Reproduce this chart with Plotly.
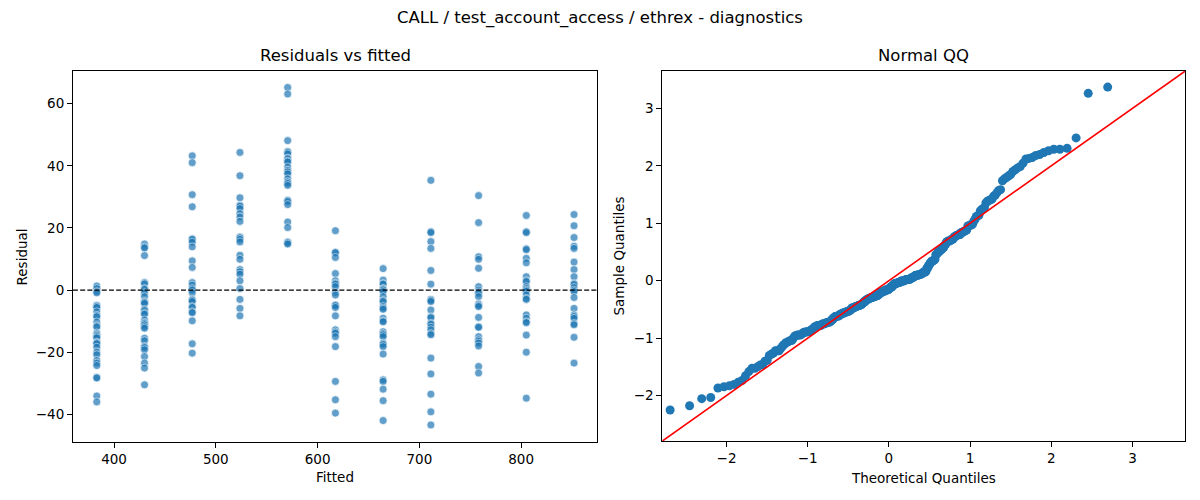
from statistics import NormalDist

import plotly.graph_objects as go

# fitted value of each group (x positions of the residual columns)
fitted_levels = [383.0, 429.9, 476.8, 523.7, 570.6, 617.5, 664.4, 711.3, 758.2, 805.1, 852.0]

# residuals, top to bottom
resid_383 = [1.3, 0.5, -0.5, -0.9, -4.9, -5.2, -5.6, -7.0, -8.2, -8.6, -10.3, -11.5, -11.9, -13.8, -14.2, -14.6,
             -15.0, -15.4, -16.8, -17.0, -17.3, -18.4, -20.0, -20.8, -22.7, -23.5, -24.3, -28.1, -28.3, -34.1, -36.0]
resid_430 = [14.8, 13.9, 13.5, 11.1, 2.4, 2.0, 0.5, 0.2, -0.9, -2.1, -3.7, -4.0, -4.3, -6.2, -6.6, -7.5,
             -7.8, -9.6, -10.5, -10.8, -11.2, -11.8, -12.3, -15.5, -16.3, -18.2, -18.5, -19.2, -21.4, -23.5, -25.1, -30.5]
resid_477 = [43.2, 41.0, 30.7, 26.8, 16.5, 16.3, 15.4, 13.9, 9.4, 7.3, 2.4, 1.6, 0.5, 0.0, -0.9, -3.0,
             -3.3, -3.7, -5.3, -5.6, -7.0, -7.3, -9.9, -17.3, -20.3]
resid_524 = [44.3, 36.8, 29.7, 27.3, 27.0, 26.2, 24.6, 23.5, 22.1, 17.1, 16.8, 16.3, 15.5, 11.2, 9.9, 6.6,
             5.9, 5.1, 3.0, 0.5, -3.0, -5.9, -8.3]
resid_571 = [65.2, 63.1, 48.1, 44.6, 44.3, 43.8, 42.5, 42.2, 41.5, 41.2, 39.6, 38.5, 38.0, 37.4, 35.8, 34.8,
             34.3, 33.7, 28.9, 28.5, 27.5, 21.9, 20.1, 15.5, 15.2, 14.8]
resid_618 = [19.1, 12.2, 12.0, 10.5, 5.3, 3.0, 2.2, 1.9, 1.1, -0.8, -1.6, -4.8, -5.0, -5.6, -8.3, -12.8,
             -13.5, -13.9, -15.0, -18.2, -29.4, -35.3, -39.6]
resid_664 = [6.9, 3.2, 2.1, 1.9, 0.5, 0.3, 0.0, -0.5, -2.1, -3.4, -3.7, -5.3, -5.8, -6.2, -9.1, -10.0,
             -10.2, -13.4, -14.0, -14.4, -15.0, -17.1, -17.5, -18.2, -20.6, -28.9, -29.4, -31.9, -35.6, -42.0]
resid_711 = [35.3, 18.8, 18.5, 15.6, 13.4, 6.3, 1.9, -3.0, -3.3, -3.7, -6.4, -8.6, -8.9, -10.7, -11.0, -12.0,
             -12.8, -14.0, -14.4, -21.9, -27.0, -33.5, -39.2, -43.4]
resid_758 = [30.4, 21.7, 10.7, 9.9, 7.0, 1.1, 0.0, -0.6, -1.1, -2.1, -4.5, -5.0, -5.3, -8.8, -11.8, -12.0,
             -15.0, -16.0, -16.5, -17.1, -18.0, -24.6, -26.7]
resid_805 = [24.0, 18.8, 18.5, 13.3, 13.0, 10.2, 8.8, 4.3, 3.0, 2.7, 1.1, 0.5, 0.0, -0.4, -1.6, -2.7,
             -3.0, -8.0, -9.1, -10.2, -10.5, -14.5, -20.0, -34.8]
resid_852 = [24.3, 20.7, 16.9, 14.1, 13.4, 9.0, 6.6, 4.3, 2.1, 1.8, 0.8, 0.0, -0.5, -2.4, -5.9, -8.0,
             -8.5, -9.1, -10.8, -11.2, -15.2, -23.5]

residuals = [resid_383, resid_430, resid_477, resid_524, resid_571, resid_618,
             resid_664, resid_711, resid_758, resid_805, resid_852]

fitted = []
resid = []
for f, rs in zip(fitted_levels, residuals):
	fitted += [f] * len(rs)
	resid += rs

# normal QQ: standardised residuals against normal quantiles, positions i/(n+1)
n = len(resid)
mean = sum(resid) / n
sd = (sum((r - mean) ** 2 for r in resid) / n) ** 0.5
sample_q = sorted((r - mean) / sd for r in resid)
theo_q = [NormalDist().inv_cdf(i / (n + 1)) for i in range(1, n + 1)]

qq_lim = [-2.79, 3.65]

blue = '#1f77b4'
font = 'DejaVu Sans'

fig = go.Figure()
fig.add_trace(go.Scatter(
	x=fitted, y=resid, mode='markers',
	marker=dict(color=blue, size=8, opacity=0.7, line=dict(color='white', width=0.7)),
	xaxis='x', yaxis='y', hoverinfo='x+y'))
fig.add_trace(go.Scatter(
	x=theo_q, y=sample_q, mode='markers',
	marker=dict(color=blue, size=9),
	xaxis='x2', yaxis='y2'))
fig.add_trace(go.Scatter(
	x=qq_lim, y=qq_lim, mode='lines',
	line=dict(color='red', width=1.6),
	xaxis='x2', yaxis='y2', cliponaxis=False))

axis_style = dict(
	showline=True, linecolor='black', linewidth=1, mirror=True,
	ticks='outside', ticklen=5, tickwidth=1, tickcolor='black',
	showgrid=False, zeroline=False,
	tickfont=dict(family=font, size=13.5, color='black'))

fig.update_layout(
	width=1200, height=500,
	margin=dict(l=0, r=0, t=0, b=0),
	paper_bgcolor='white', plot_bgcolor='white',
	showlegend=False,
	xaxis=dict(axis_style, domain=[0.0608, 0.4977], range=[359.6, 874.8], tickvals=[400, 500, 600, 700, 800], anchor='y'),
	yaxis=dict(axis_style, domain=[0.116, 0.858], range=[-48.9, 70.5], tickvals=[-40, -20, 0, 20, 40, 60], anchor='x'),
	xaxis2=dict(axis_style, domain=[0.552, 0.9877], range=qq_lim, dtick=1, anchor='y2'),
	yaxis2=dict(axis_style, domain=[0.118, 0.858], range=qq_lim, dtick=1, anchor='x2'),
	shapes=[dict(type='line', xref='x domain', x0=0, x1=1, yref='y', y0=0, y1=0,
		line=dict(color='black', width=1.2, dash='5px,2.2px'))],
)

def label(text, x, y, size=13.5, angle=0):
	fig.add_annotation(text=text, x=x, y=y, xref='paper', yref='paper',
		showarrow=False, textangle=angle, xanchor='center', yanchor='middle',
		font=dict(family=font, size=size, color='black'))

label('CALL / test_account_access / ethrex - diagnostics', 0.5, 0.964, size=16.5)
label('Residuals vs fitted', 0.2793, 0.888, size=16.5)
label('Normal QQ', 0.7698, 0.888, size=16.5)
label('Fitted', 0.2793, 0.046)
label('Theoretical Quantiles', 0.7698, 0.044)
label('Residual', 0.0183, 0.487, angle=-90)
label('Sample Quantiles', 0.515, 0.487, angle=-90)

# the page's default body margin would push the figure 8px right and down
fig.write_html('out.html', config={'displayModeBar': False},
	post_script="document.body.style.margin = '0px';")
